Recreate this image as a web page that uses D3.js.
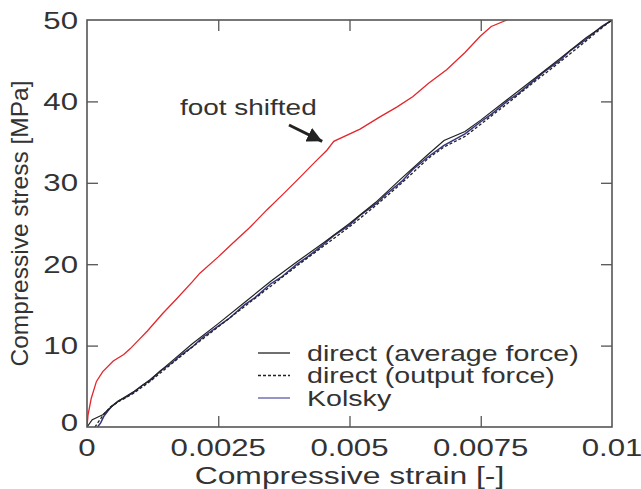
<!DOCTYPE html>
<html>
<head>
<meta charset="utf-8">
<script src="https://cdn.jsdelivr.net/npm/d3@7"></script>
<style>
  html, body { margin: 0; padding: 0; background: #fff; }
  svg { display: block; }
  text { font-family: "Liberation Sans", Arial, Helvetica, sans-serif; fill: #333; }
</style>
</head>
<body>
<svg id="chart" width="641" height="489"></svg>
<script>
// Stress–strain curves: strain [-], stress [MPa]
const xTicks = [0, 0.0025, 0.005, 0.0075, 0.01];
const xTickLabels = ["0", "0.0025", "0.005", "0.0075", "0.01"];
const yTicks = [0, 10, 20, 30, 40, 50];
const yTickLabels = ["0", "10", "20", "30", "40", "50"];

const directAverage = [
  [0, 0], [0.0001, 0.9], [0.0002, 1.2], [0.0003, 1.5], [0.00045, 2.4], [0.0006, 3.2],
  [0.0009, 4.4], [0.0012, 5.8], [0.0016, 8.0], [0.002, 10.2], [0.0025, 12.7],
  [0.003, 15.3], [0.0035, 17.9], [0.004, 20.3], [0.0045, 22.6], [0.005, 25.0],
  [0.0055, 27.6], [0.006, 30.6], [0.0065, 33.5], [0.0068, 35.2], [0.0072, 36.3],
  [0.0075, 37.7], [0.008, 40.2], [0.0085, 42.7], [0.009, 45.2], [0.0095, 47.8], [0.01, 50]
];

const directOutput = [
  [0.00015, 0], [0.0003, 1.4], [0.00045, 2.5], [0.0006, 3.1], [0.0009, 4.2],
  [0.0012, 5.6], [0.0016, 7.7], [0.002, 9.8], [0.0025, 12.3], [0.003, 14.8],
  [0.0035, 17.3], [0.004, 19.8], [0.0045, 22.2], [0.005, 24.6], [0.0055, 27.2],
  [0.006, 30.0], [0.0065, 33.0], [0.0068, 34.4], [0.0072, 35.7], [0.0075, 37.2],
  [0.008, 39.7], [0.0085, 42.3], [0.009, 44.8], [0.0095, 47.4], [0.0098, 49.0], [0.01, 50]
];

const kolsky = [
  [0.0002, 0], [0.00026, 0.5], [0.00032, 1.3], [0.0004, 2.0], [0.00048, 2.6], [0.0006, 3.2],
  [0.00075, 3.7], [0.0009, 4.3], [0.00105, 5.1], [0.0012, 5.7], [0.0014, 6.9], [0.0016, 7.8],
  [0.0018, 8.9], [0.002, 9.8], [0.0022, 11.0], [0.0025, 12.4], [0.0027, 13.3], [0.003, 15.0],
  [0.0032, 15.9], [0.0035, 17.6], [0.0037, 18.4], [0.004, 20.0], [0.0042, 20.9], [0.0045, 22.4],
  [0.0047, 23.5], [0.005, 24.8], [0.0052, 26.0], [0.0055, 27.4], [0.0057, 28.6], [0.006, 30.2],
  [0.0062, 31.6], [0.0065, 33.2], [0.0068, 34.6], [0.007, 35.3], [0.0072, 36.0], [0.0075, 37.5],
  [0.0077, 38.4], [0.008, 40.0], [0.0082, 40.9], [0.0085, 42.5], [0.0087, 43.6], [0.009, 45.0],
  [0.0092, 46.2], [0.0095, 47.6], [0.0098, 49.2], [0.01, 50]
];

const footShifted = [
  [0, 0], [0.00002, 1.5], [0.00008, 3.5], [0.00018, 5.6], [0.0003, 6.8], [0.0005, 8.1],
  [0.0007, 8.9], [0.00082, 9.6], [0.001, 10.8], [0.00115, 11.8], [0.00145, 14.0],
  [0.0017, 15.7], [0.002, 17.8], [0.00215, 18.9], [0.0025, 20.9], [0.00278, 22.6],
  [0.0031, 24.5], [0.00343, 26.7], [0.00375, 28.7], [0.00406, 30.7], [0.00435, 32.6],
  [0.00457, 34.0], [0.0047, 35.1], [0.0052, 36.6], [0.00558, 38.1], [0.0059, 39.3],
  [0.00621, 40.6], [0.0065, 42.2], [0.00685, 43.9], [0.0072, 46.0], [0.00749, 48.0],
  [0.0077, 49.2], [0.008, 50]
];

const legendItems = [
  { label: "direct (average force)", color: "#222", dash: null },
  { label: "direct (output force)", color: "#222", dash: "3,2" },
  { label: "Kolsky", color: "#5a5aa8", dash: null }
];

const svg = d3.select("#chart");
const margin = { left: 87, right: 29, top: 20, bottom: 62 };
const W = 641, H = 489;
const x = d3.scaleLinear().domain([0, 0.01]).range([margin.left, W - margin.right]);
const y = d3.scaleLinear().domain([0, 50]).range([H - margin.bottom, margin.top]);
const SX = 1.3; // wide lettering

function wideText(g, px, py, str, size, anchor) {
  return g.append("text")
    .attr("transform", `translate(${px},${py}) scale(${SX},1)`)
    .attr("text-anchor", anchor || "start")
    .attr("font-size", size)
    .text(str);
}

svg.append("clipPath").attr("id", "plotClip")
  .append("rect")
  .attr("x", x(0)).attr("y", y(50))
  .attr("width", x(0.01) - x(0)).attr("height", y(0) - y(50));

// Inward ticks on all four sides
const tickLen = 11;
const axisColor = "#555";
const axB = d3.axisBottom(x).tickValues(xTicks.slice(1, -1)).tickSize(-tickLen).tickFormat("");
const axT = d3.axisTop(x).tickValues(xTicks.slice(1, -1)).tickSize(-tickLen).tickFormat("");
const axL = d3.axisLeft(y).tickValues(yTicks.slice(1, -1)).tickSize(-tickLen).tickFormat("");
const axR = d3.axisRight(y).tickValues(yTicks.slice(1, -1)).tickSize(-tickLen).tickFormat("");
[[axB, `translate(0,${y(0)})`], [axT, `translate(0,${y(50)})`],
 [axL, `translate(${x(0)},0)`], [axR, `translate(${x(0.01)},0)`]].forEach(([ax, tr]) => {
  const g = svg.append("g").attr("transform", tr).call(ax);
  g.select(".domain").remove();
  g.selectAll(".tick line").attr("stroke", axisColor).attr("stroke-width", 1.3);
});

// Tick labels
const labelsG = svg.append("g");
xTicks.forEach((v, i) => wideText(labelsG, x(v), 456, xTickLabels[i], 24, "middle"));
yTicks.forEach((v, i) => wideText(labelsG, 78, y(v) + 8.5 - (v === 0 ? 5 : 0), yTickLabels[i], 24, "end"));

// Curves
const line = d3.line().x(d => x(d[0])).y(d => y(d[1])).curve(d3.curveLinear);
const plot = svg.append("g").attr("clip-path", "url(#plotClip)").attr("fill", "none");
plot.append("path").datum(footShifted).attr("d", line).attr("stroke", "#e3262b").attr("stroke-width", 1.3);
plot.append("path").datum(kolsky).attr("d", line).attr("stroke", "#34347f").attr("stroke-width", 1.5);
plot.append("path").datum(directOutput).attr("d", line).attr("stroke", "#222").attr("stroke-width", 1.3).attr("stroke-dasharray", "3,2");
plot.append("path").datum(directAverage).attr("d", line).attr("stroke", "#222").attr("stroke-width", 1.2);

// Frame
svg.append("rect")
  .attr("x", x(0)).attr("y", y(50))
  .attr("width", x(0.01) - x(0)).attr("height", y(0) - y(50))
  .attr("fill", "none").attr("stroke", axisColor).attr("stroke-width", 1.6);

// Axis titles
wideText(svg, (x(0) + x(0.01)) / 2, 484, "Compressive strain [-]", 24.5, "middle");
svg.append("text")
  .attr("transform", `translate(28,${(y(0) + y(50)) / 2}) rotate(-90)`)
  .attr("text-anchor", "middle")
  .attr("font-size", 24.5)
  .text("Compressive stress [MPa]");

// Legend
const lg = svg.append("g");
legendItems.forEach((it, i) => {
  const cy = 353 + i * 22.5;
  lg.append("line").attr("x1", 258).attr("x2", 290).attr("y1", cy).attr("y2", cy)
    .attr("stroke", it.color).attr("stroke-width", 1.3)
    .attr("stroke-dasharray", it.dash);
  wideText(lg, 307, cy + 7.5, it.label, 22, "start");
});

// Annotation
svg.append("defs").append("marker")
  .attr("id", "arrowHead").attr("viewBox", "0 0 10 10")
  .attr("refX", 10).attr("refY", 5)
  .attr("markerWidth", 5).attr("markerHeight", 5)
  .attr("markerUnits", "strokeWidth")
  .attr("orient", "auto")
  .append("path").attr("d", "M0,0 L10,5 L0,10 Z").attr("fill", "#222");
wideText(svg, 180, 115, "foot shifted", 21.5, "start");
svg.append("line")
  .attr("x1", 289).attr("y1", 125).attr("x2", x(0.00448)).attr("y2", y(35.1))
  .attr("stroke", "#222").attr("stroke-width", 3)
  .attr("marker-end", "url(#arrowHead)");
</script>
</body>
</html>
